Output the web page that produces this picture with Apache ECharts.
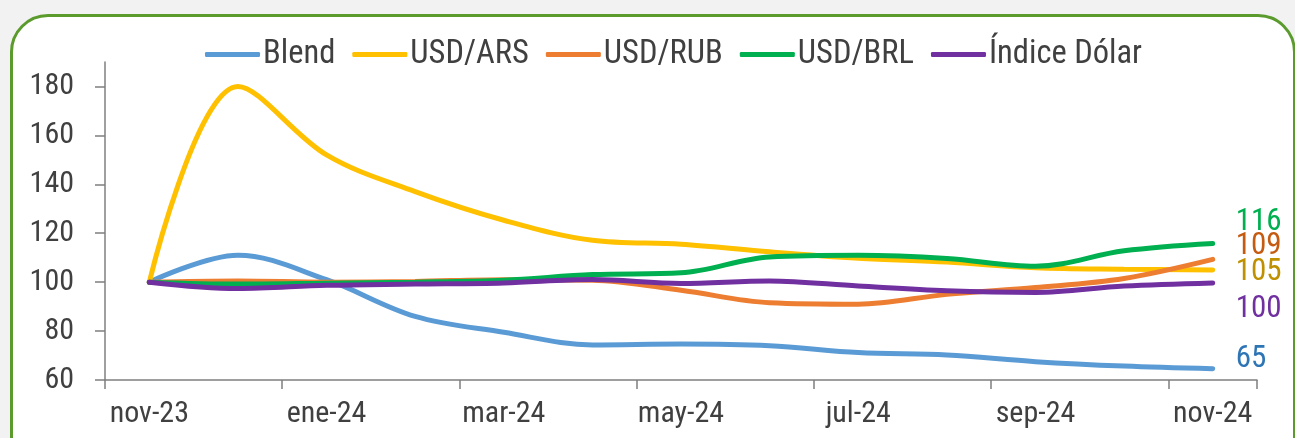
<!DOCTYPE html>
<html>
<head>
<meta charset="utf-8">
<script src="https://cdn.jsdelivr.net/npm/echarts@6/dist/echarts.min.js"></script>
<style>
html, body { margin: 0; padding: 0; background: #f2f2f2; overflow: hidden; }
#frame {
	position: absolute; left: 10px; top: 14px; width: 1280px; height: 460px;
	border: 3px solid #5b9b2d; border-radius: 38px; background: #fff;
}
#chartID { position: absolute; left: 0; top: 0; width: 1295px; height: 438px; }
</style>
</head>
<body>
<div id="frame"></div>
<div id="chartID"></div>
<script>
//indices base nov-23 = 100
var monthArray = ["nov-23", "dic-23", "ene-24", "feb-24", "mar-24", "abr-24", "may-24", "jun-24", "jul-24", "ago-24", "sep-24", "oct-24", "nov-24"];
var blendArray  = [100, 111, 101, 86, 79.5, 74.3, 74.7, 74, 71.2, 70.2, 67.5, 65.7, 64.6];
var usdArsArray = [100, 180, 152, 137, 125.3, 117.1, 115.5, 112.4, 109.8, 108.2, 105.9, 105.3, 105];
var usdRubArray = [100, 100.5, 100, 100.3, 101, 100.8, 96.7, 91.6, 91, 95, 97.8, 101.5, 109.3];
var usdBrlArray = [100, 99.2, 99.6, 100, 100.8, 103.1, 103.8, 110.3, 111, 109.7, 106.5, 112.8, 115.8];
var dolarArray  = [100, 97.4, 98.7, 99.2, 99.7, 101.1, 99.5, 100.5, 98.4, 96.5, 95.8, 98.4, 99.7];
var yTickArray  = [60, 80, 100, 120, 140, 160, 180];

var fontName = "'Roboto Condensed', Roboto, sans-serif";

function lineSerie(name, data, color, labelColor, dy){
	return {
		name: name,
		type: 'line',
		smooth: 0.35,
		symbol: 'none',
		data: data,
		lineStyle: { color: color, width: 5, cap: 'round' },
		itemStyle: { color: color },
		endLabel: {
			show: true,
			distance: 23,
			offset: [0, dy],
			color: labelColor,
			fontFamily: fontName,
			fontSize: 31,
			formatter: function(p){ return Math.round(p.value); }
		}
	};
}

var chart = echarts.init(document.getElementById('chartID'));
var option = {
	animation: false,
	grid: { left: 105, right: 38, top: 62, bottom: 58, containLabel: false },
	legend: {
		top: 33,
		left: 200,
		icon: 'roundRect',
		itemWidth: 55,
		itemHeight: 5,
		itemGap: 17,
		textStyle: { color: '#404040', fontFamily: fontName, fontSize: 32.5, padding: [0, 0, 0, -2] },
		data: ['Blend', 'USD/ARS', 'USD/RUB', 'USD/BRL', 'Índice Dólar']
	},
	xAxis: {
		type: 'category',
		boundaryGap: true,
		data: monthArray,
		axisLine: { lineStyle: { color: '#7f7f7f', width: 1.5 } },
		axisTick: { show: true, interval: 1, length: 9, lineStyle: { color: '#7f7f7f', width: 1.5 } },
		axisLabel: { interval: 1, color: '#404040', fontFamily: fontName, fontSize: 30, margin: 19 }
	},
	yAxis: {
		type: 'value',
		min: 60,
		max: 190,
		interval: 20,
		splitLine: { show: false },
		axisLine: { show: true, lineStyle: { color: '#7f7f7f', width: 1.5 } },
		axisTick: { show: true, length: 10, customValues: yTickArray, lineStyle: { color: '#7f7f7f', width: 1.5 } },
		axisLabel: { color: '#404040', fontFamily: fontName, fontSize: 30, margin: 31, customValues: yTickArray }
	},
	series: [
		lineSerie('Blend', blendArray, '#5b9bd5', '#2e75b6', -9),
		lineSerie('USD/ARS', usdArsArray, '#ffc000', '#bf9000', 2),
		lineSerie('USD/RUB', usdRubArray, '#ed7d31', '#c55a11', -13),
		lineSerie('USD/BRL', usdBrlArray, '#00b050', '#00b050', -21),
		lineSerie('Índice Dólar', dolarArray, '#7030a0', '#7030a0', 26)
	]
};
chart.setOption(option);
</script>
</body>
</html>
